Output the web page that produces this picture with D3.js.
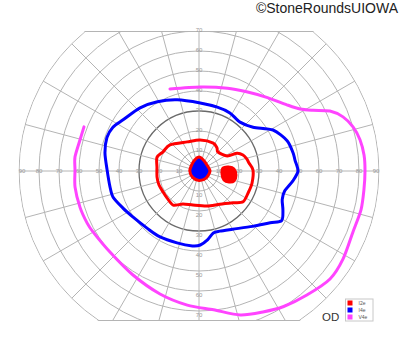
<!DOCTYPE html>
<meta charset="utf-8">
<style>
    body { margin: 0; background: #fff; }
    svg { display: block; }
    .grid { fill: none; stroke: #b4b4b4; stroke-width: 1px; }
    .grid--30 { stroke: #6a6a6a; stroke-width: 1.3px; }
    .tick { font-family: "Liberation Sans", Arial, sans-serif; font-size: 6px; fill: #9a9a9a; }
    .iso { fill: none; stroke-width: 3px; stroke-linejoin: round; stroke-linecap: round; }
</style>
<svg width="400" height="352"></svg>
<script src="https://d3js.org/d3.v7.min.js"></script>
<script>
    // isopters as [angle (deg, counterclockwise from right), eccentricity (deg)]
    var i2e = [
        [1, 27], [9, 25.3], [14, 24.7], [20, 23.4], [25, 21], [28, 16], [45, 13.4],
        [52, 14.6], [63, 15.7], [88, 15.5], [112, 15.7], [138, 19.5], [152, 20.4],
        [162, 22.1], [175, 21.1], [188, 21.2], [199, 21.2], [210, 20.8], [220, 20.9],
        [233, 21.4], [244, 18.3], [260, 17.3], [283, 18], [302, 19.6], [317, 23.3],
        [325, 26.9], [336, 26.9], [347, 27.2]
    ];
    var i2eIsland = [
        [7, 12.1], [7.6, 15.1], [3.3, 17.5], [-6.2, 18.6], [-15.9, 18.2],
        [-20.1, 16], [-19.8, 13.3], [-7.4, 11.6]
    ];
    var i4e = [
        [0, 49.5], [6.5, 48.3], [11, 47.9], [19, 46.6], [29, 42.3], [39, 34.8],
        [50, 31.9], [62, 32.9], [74, 33.2], [89, 34], [107, 37.2], [121, 40.4],
        [133, 43.2], [146, 45.8], [153, 48.3], [160, 49], [169, 47.9], [179, 46],
        [190, 45.2], [197, 44.9], [206, 42.3], [215, 40.2], [228, 38.6], [239, 38.3],
        [253, 37.6], [265, 37.6], [271, 37], [277, 34.7], [283, 31.8], [289, 31.8],
        [300, 33.6], [314, 38.5], [324, 44], [329, 48.2], [335, 46.3], [341, 44],
        [347, 44], [354, 47.2]
    ];
    var i4eCentre = [
        [0, 5.5], [40, 5], [70, 6], [90, 7], [110, 6], [140, 4.8], [180, 4.6],
        [225, 4.5], [270, 4.7], [315, 5]
    ];
    var v4e = [
        [109.5, 43.5], [89, 42], [71, 43.8], [59, 46.2], [47, 50.2], [37, 55],
        [31.5, 59.3], [28, 64.6], [24.6, 72], [20.6, 76.9], [16, 80.1], [11, 82],
        [5.5, 82.9], [0, 83], [-6.6, 83], [-13.5, 83.3], [-21.6, 82.8], [-31.4, 84.4],
        [-39.5, 84.9], [-49, 82.2], [-58, 79.9], [-65.6, 77.4], [-74, 74.9],
        [-84, 69.8], [-95, 67.3], [-107.6, 64.5], [-122.4, 61.6], [-137.7, 60.2],
        [-150, 61.1], [-155, 61.7], [-163, 62.2], [-172.6, 62.5], [-180.5, 62],
        [-186.4, 62.4], [-194.6, 61.5], [-201, 61.6]
    ];
    var rings = [10, 20, 30, 40, 50, 60, 70, 80, 90];
    var meridians = d3.range(0, 360, 15);
    var hTicks = [10, 20, 30, 40, 50, 60, 70, 80, 90];
    var vTicks = [10, 20, 30, 40, 50, 60, 70];
    var legendItems = [
        { name: 'I2e', color: '#ff0000' },
        { name: 'I4e', color: '#0000ff' },
        { name: 'V4e', color: '#ff44ff' }
    ];

    var svg = d3.select('svg');
    var cx = 199, cy = 171;
    var topLimit = 70, bottomLimit = 75;
    var r = d3.scaleLinear().domain([0, 90]).range([0, 180]);
    var rad = function (a) { return (90 - a) * Math.PI / 180; };

    var defs = svg.append('defs');
    defs.append('clipPath').attr('id', 'clip-circle')
        .append('circle').attr('cx', 0).attr('cy', 0).attr('r', r(90) + 0.5);
    defs.append('clipPath').attr('id', 'clip-band')
        .append('rect')
        .attr('x', -r(90) - 2).attr('y', -r(topLimit))
        .attr('width', 2 * r(90) + 4).attr('height', r(topLimit) + r(bottomLimit));

    var g = svg.append('g').attr('transform', 'translate(' + cx + ',' + cy + ')');
    var band = g.append('g').attr('clip-path', 'url(#clip-band)');
    var grid = band.append('g').attr('clip-path', 'url(#clip-circle)');

    grid.selectAll('.ring')
        .data(rings)
        .enter().append('circle')
        .attr('class', function (d) { return d === 30 ? 'grid grid--30' : 'grid'; })
        .attr('r', function (d) { return r(d); });

    grid.selectAll('.meridian')
        .data(meridians)
        .enter().append('line')
        .attr('class', 'grid')
        .attr('x2', function (d) { return r(90) * Math.cos(d * Math.PI / 180); })
        .attr('y2', function (d) { return -r(90) * Math.sin(d * Math.PI / 180); });

    // flat top and bottom edges
    grid.selectAll('.edge')
        .data([-r(topLimit) + 0.5, r(bottomLimit) - 0.5])
        .enter().append('line')
        .attr('class', 'grid')
        .attr('x1', -r(90)).attr('x2', r(90))
        .attr('y1', function (d) { return d; })
        .attr('y2', function (d) { return d; });

    // tick labels
    var ticks = g.append('g');
    hTicks.forEach(function (t) {
        [-1, 1].forEach(function (s) {
            var x = s * r(t);
            if (t === 90) x -= s * 3;
            ticks.append('text').attr('class', 'tick')
                .attr('x', x).attr('y', 0)
                .attr('text-anchor', 'middle').attr('dy', '0.35em')
                .text(t);
        });
    });
    vTicks.forEach(function (t) {
        [-1, 1].forEach(function (s) {
            ticks.append('text').attr('class', 'tick')
                .attr('x', 0).attr('y', s * r(t) + (s < 0 ? -1.5 : 3.5))
                .attr('text-anchor', 'middle').attr('dy', '0.35em')
                .text(t);
        });
    });

    // isopters
    var lineClosed = d3.lineRadial()
        .angle(function (d) { return rad(d[0]); })
        .radius(function (d) { return r(d[1]); })
        .curve(d3.curveCardinalClosed.tension(0.2));
    var lineOpen = d3.lineRadial()
        .angle(function (d) { return rad(d[0]); })
        .radius(function (d) { return r(d[1]); })
        .curve(d3.curveCardinal.tension(0.2));

    g.append('path').attr('class', 'iso')
        .attr('stroke', legendItems[2].color).attr('d', lineOpen(v4e));
    g.append('path').attr('class', 'iso')
        .attr('stroke', legendItems[1].color).attr('d', lineClosed(i4e));
    g.append('path').attr('class', 'iso')
        .attr('stroke', legendItems[0].color).attr('d', lineClosed(i2e));
    g.append('path').attr('class', 'iso')
        .attr('stroke', legendItems[0].color).style('fill', legendItems[0].color)
        .attr('d', lineClosed(i2eIsland));
    g.append('path').attr('class', 'iso')
        .attr('stroke', legendItems[0].color).style('fill', legendItems[1].color)
        .attr('d', lineClosed(i4eCentre));

    // legend
    var legend = svg.append('g').attr('transform', 'translate(345.5,299)');
    legend.append('rect')
        .attr('width', 27.5).attr('height', 22)
        .attr('fill', '#fff').attr('stroke', '#c8c8c8').attr('stroke-width', 1);
    var item = legend.selectAll('.item')
        .data(legendItems)
        .enter().append('g')
        .attr('transform', function (d, i) { return 'translate(2,' + (1.5 + i * 7) + ')'; });
    item.append('rect')
        .attr('width', 5).attr('height', 5)
        .attr('fill', function (d) { return d.color; });
    item.append('text')
        .attr('x', 11).attr('y', 2.5).attr('dy', '0.35em')
        .attr('font-family', '"Liberation Sans", Arial, sans-serif')
        .attr('font-size', 5).attr('fill', '#555')
        .text(function (d) { return d.name; });

    svg.append('text')
        .attr('x', 322).attr('y', 321)
        .attr('font-family', '"Liberation Sans", Arial, sans-serif')
        .attr('font-size', 11.5).attr('fill', '#333')
        .text('OD');

    svg.append('text')
        .attr('x', 398).attr('y', 13)
        .attr('text-anchor', 'end')
        .attr('font-family', '"Liberation Sans", Arial, sans-serif')
        .attr('font-size', 14).attr('fill', '#222')
        .text('©StoneRoundsUIOWA');
</script>
